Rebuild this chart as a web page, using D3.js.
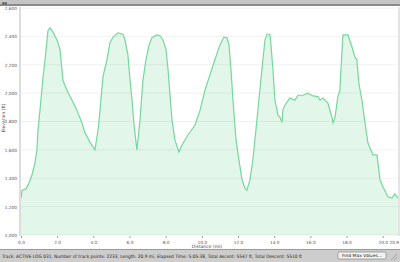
<!DOCTYPE html>
<html>
<head>
<meta charset="utf-8">
<script src="https://cdn.jsdelivr.net/npm/d3@7"></script>
<style>
  body { margin: 0; background: #fff; }
  svg { display: block; font-family: "DejaVu Sans", sans-serif; }
</style>
</head>
<body>
<svg class="chart"></svg>
<script>
// track profile, distance in miles / elevation in feet
var distance = [0.00,0.06,0.28,0.44,0.61,0.77,0.88,0.94,1.05,1.22,1.33,1.44,1.49,1.60,1.77,1.99,2.16,2.32,2.54,2.82,3.09,3.37,3.54,3.81,4.09,
  4.26,4.37,4.53,4.75,4.92,5.09,5.36,5.64,5.75,5.91,6.03,6.14,6.25,6.41,6.58,6.74,6.91,7.08,7.24,7.52,7.68,7.85,8.02,8.13,8.24,8.35,8.51,8.73,
  8.90,9.23,9.62,9.90,10.17,10.45,10.72,11.00,11.22,11.39,11.50,11.61,11.72,11.89,12.05,12.22,12.38,12.49,12.66,12.82,12.99,13.15,13.32,13.49,
  13.60,13.76,13.82,13.93,14.04,14.21,14.32,14.43,14.48,14.59,14.87,15.15,15.31,15.59,15.86,16.14,16.42,16.53,16.70,16.97,17.19,17.25,17.36,
  17.52,17.63,17.75,17.80,18.08,18.30,18.46,18.57,18.68,18.85,19.02,19.18,19.29,19.46,19.68,19.73,19.85,20.01,20.29,20.51,20.67,20.84];
var elevation = [1260,1315,1325,1365,1425,1505,1600,1740,1880,2115,2235,2375,2440,2460,2430,2375,2305,2090,2020,1950,1880,1790,1720,1655,1600,
  1740,1880,2115,2235,2355,2395,2425,2415,2375,2270,2090,1950,1775,1600,1810,2090,2235,2340,2390,2410,2405,2375,2305,2165,1985,1810,1670,1585,
  1635,1705,1775,1880,2020,2130,2235,2340,2395,2390,2340,2165,1950,1670,1530,1390,1330,1315,1390,1530,1740,1950,2165,2375,
  2415,2415,2340,2165,1950,1845,1830,1795,1880,1915,1965,1950,1985,1985,2000,1980,1975,1950,1965,1930,1830,1790,1830,
  1975,2020,2305,2410,2410,2325,2255,2235,2070,1950,1790,1650,1615,1565,1565,1515,1390,1340,1270,1260,1290,1260];
var yTicks = [1000,1200,1400,1600,1800,2000,2200,2400,2600];
var xTicks = [0,2,4,6,8,10,12,14,16,18,20];
var totalLength = 20.9;
var statusText = "Track: ACTIVE LOG 031, Number of track points: 2233, Length: 20.9 mi, Elapsed Time: 5:05:38, Total Ascent: 5547 ft, Total Descent: 5510 ft";

var W = 400, H = 262;
var svg = d3.select(".chart").attr("width", W).attr("height", H);

var x = d3.scaleLinear().domain([0, totalLength]).range([21, 399]);
var y = d3.scaleLinear().domain([1000, 2600]).range([235, 8]);

var data = distance.map(function(d, i) { return [d, elevation[i]]; });

// top title bar
svg.append("rect").attr("x", 0).attr("y", 0).attr("width", W).attr("height", 5).attr("fill", "#c4c4c4");
svg.append("rect").attr("x", 0).attr("y", 4).attr("width", W).attr("height", 2).attr("fill", "#8a8a8a");
svg.append("text").attr("x", 2).attr("y", 5).attr("font-size", 5).attr("fill", "#333").text("\u25BE\u25BE");

// area + line
var area = d3.area().x(function(d) { return x(d[0]); }).y0(y(1000)).y1(function(d) { return y(d[1]); });
var line = d3.line().x(function(d) { return x(d[0]); }).y(function(d) { return y(d[1]); });

svg.append("path").datum(data).attr("d", area).attr("fill", "#e3f6ea");

// gridlines (drawn over the fill, faint)
svg.append("g").selectAll("line").data(yTicks).enter().append("line")
  .attr("x1", 21).attr("x2", 399)
  .attr("y1", function(d) { return y(d); }).attr("y2", function(d) { return y(d); })
  .attr("stroke", "#000").attr("stroke-opacity", 0.07).attr("stroke-width", 0.8);

svg.append("path").datum(data).attr("d", line).attr("fill", "none").attr("stroke", "#76d79c").attr("stroke-width", 1.2);

// y axis
svg.append("rect").attr("x", 19).attr("y", 7).attr("width", 2).attr("height", 229).attr("fill", "#dcdcdc");
svg.append("rect").attr("x", 398).attr("y", 7).attr("width", 2).attr("height", 229).attr("fill", "#e4e4e4");
var yAxis = svg.append("g").attr("transform", "translate(19,0)")
  .call(d3.axisLeft(y).tickValues(yTicks).tickFormat(d3.format(",")).tickSize(0).tickPadding(2));
yAxis.select(".domain").remove();
yAxis.selectAll("text").attr("font-size", 4.3).attr("fill", "#555").attr("font-family", "DejaVu Sans");

// x axis
var xAxis = svg.append("g").attr("transform", "translate(0,236)")
  .call(d3.axisBottom(x).tickValues(xTicks).tickFormat(d3.format(".1f")).tickSize(2).tickPadding(3));
xAxis.select(".domain").remove();
xAxis.selectAll("line").attr("stroke", "#999");
xAxis.selectAll("text").attr("font-size", 4.3).attr("fill", "#555").attr("font-family", "DejaVu Sans");
svg.append("text").attr("x", 399).attr("y", 244).attr("text-anchor", "end")
  .attr("font-size", 4.3).attr("fill", "#555").text(totalLength.toFixed(1));

// axis titles
svg.append("text").attr("x", 207).attr("y", 248).attr("text-anchor", "middle")
  .attr("font-size", 4.5).attr("fill", "#444").text("Distance (mi)");
svg.append("text").attr("transform", "translate(5,118) rotate(-90)").attr("text-anchor", "middle")
  .attr("font-size", 4.5).attr("fill", "#444").text("Elevation (ft)");

// status bar
svg.append("rect").attr("x", 0).attr("y", 249).attr("width", W).attr("height", 13).attr("fill", "#cdcdcd");
svg.append("rect").attr("x", 0).attr("y", 249).attr("width", W).attr("height", 1).attr("fill", "#9a9a9a");
svg.append("text").attr("x", 2).attr("y", 257.5).attr("font-size", 4.6).attr("fill", "#222")
  .attr("textLength", 300).attr("lengthAdjust", "spacingAndGlyphs").text(statusText);
svg.append("rect").attr("x", 338).attr("y", 252).attr("width", 48).attr("height", 7).attr("rx", 1)
  .attr("fill", "#f2f2f2").attr("stroke", "#777").attr("stroke-width", 0.6);
svg.append("text").attr("x", 362).attr("y", 257.3).attr("text-anchor", "middle").attr("font-size", 4.3).attr("fill", "#222")
  .attr("textLength", 40).attr("lengthAdjust", "spacingAndGlyphs").text("Find Max Values...");
svg.append("path").attr("d", "M391,260 L397,254 M394,260 L397,257").attr("stroke", "#888").attr("stroke-width", 0.6);
</script>
</body>
</html>
